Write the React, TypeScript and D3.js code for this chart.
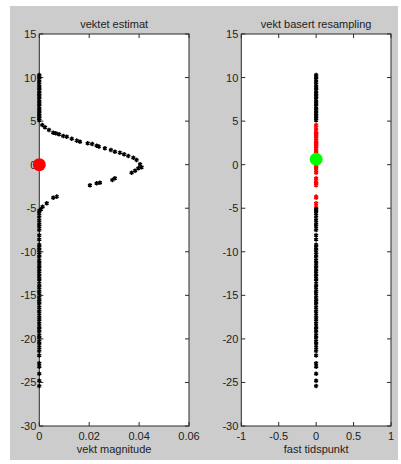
import React from "react";
import * as d3 from "d3";

const W = 401;
const H = 464;

const yTicks = [15, 10, 5, 0, -5, -10, -15, -20, -25, -30];
const leftXTicks = [0, 0.02, 0.04, 0.06];
const rightXTicks = [-1, -0.5, 0, 0.5, 1];

const titles = ["vektet estimat", "vekt basert resampling"];
const xLabels = ["vekt magnitude", "fast tidspunkt"];

// particles with (near) zero weight
const zeroPos = [
  10.3, 10.1, 9.8, 9.5, 9.2, 8.9, 8.7, 8.5, 8.2, 8.0, 7.8, 7.5, 7.2, 7.0, 6.7, 6.4, 6.2, 5.9, 5.7, 5.5, 5.3, 5.1,
  -5.3, -5.6, -6.0, -6.4, -6.8, -7.1, -7.5, -8.1, -8.6, -9.2, -9.5, -9.8, -10.1, -10.3, -10.6, -11.0, -11.3,
  -11.6, -11.9, -12.2, -12.5, -12.8, -13.1, -13.4, -13.8, -14.1, -14.5, -14.8, -15.2, -15.5, -15.7, -16.0,
  -16.4, -16.8, -17.1, -17.5, -17.8, -18.2, -18.6, -18.9, -19.2, -19.6, -19.9, -20.3, -20.6, -21.0, -21.4,
  -21.9, -22.8, -23.2, -24.0, -24.8, -25.4,
];

// particles with visible weight
const curvePos = [
  4.56, 4.29, 3.98, 3.67, 3.6, 3.49, 3.29, 3.21, 2.98, 2.76, 2.64, 2.45, 2.37, 2.18, 2.07, 1.88, 1.69, 1.49,
  1.38, 1.19, 1.0, 0.8, 0.54, 0.05, -0.3, -0.41, -0.69, -0.92, -1.56, -1.76, -2.07, -2.14, -2.37, -3.67, -3.79,
  -4.43, -4.82, -5.12,
];
const curveWeight = [
  0.0012, 0.0023, 0.0039, 0.0056, 0.0066, 0.0079, 0.0096, 0.011, 0.013, 0.015, 0.0163, 0.0194, 0.0212, 0.023,
  0.0239, 0.0263, 0.0287, 0.0303, 0.0323, 0.034, 0.0357, 0.0377, 0.039, 0.0404, 0.041, 0.0397, 0.0384, 0.037,
  0.0303, 0.0293, 0.0243, 0.023, 0.0203, 0.007, 0.0056, 0.003, 0.0013, 0.0007,
];

const estimateLeft = { x: 0, y: 0 };
const estimateRight = { x: 0, y: 0.62 };

const FONT = "'Liberation Sans', Arial, sans-serif";
const AX = "#2b2b2b";

const top = 34;
const bottom = 426;
const yScale = d3.scaleLinear().domain([-30, 15]).range([bottom, top]);
const xLeft = d3.scaleLinear().domain([0, 0.06]).range([39.3, 189]);
const xRight = d3.scaleLinear().domain([-1, 1]).range([241.3, 391]);

const star = d3.symbol().type(d3.symbolAsterisk).size(14)();

function Axes({ x, ticks, title, xlabel, fmt }: any) {
  const [x0, x1] = x.range();
  const tl = 4;
  return (
    <g>
      <rect x={x0} y={top} width={x1 - x0} height={bottom - top} fill="#fff" />
      <text x={(x0 + x1) / 2} y={28} textAnchor="middle" fontSize={11} fontFamily={FONT} fill="#222">
        {title}
      </text>
      <text x={(x0 + x1) / 2} y={453} textAnchor="middle" fontSize={11} fontFamily={FONT} fill="#222">
        {xlabel}
      </text>
      {ticks.map((t: number, i: number) => (
        <g key={"x" + i}>
          <line x1={x(t)} x2={x(t)} y1={bottom} y2={bottom - tl} stroke={AX} />
          <line x1={x(t)} x2={x(t)} y1={top} y2={top + tl} stroke={AX} />
          <text x={x(t)} y={440} textAnchor="middle" fontSize={11} fontFamily={FONT} fill="#222">
            {fmt(t)}
          </text>
        </g>
      ))}
      {yTicks.map((t, i) => (
        <g key={"y" + i}>
          <line x1={x0} x2={x0 + tl} y1={yScale(t)} y2={yScale(t)} stroke={AX} />
          <line x1={x1} x2={x1 - tl} y1={yScale(t)} y2={yScale(t)} stroke={AX} />
          <text x={x0 - 3} y={yScale(t) + 4} textAnchor="end" fontSize={11} fontFamily={FONT} fill="#222">
            {t}
          </text>
        </g>
      ))}
      <rect x={x0} y={top} width={x1 - x0} height={bottom - top} fill="none" stroke={AX} strokeWidth={1} />
    </g>
  );
}

function Marker({ x, y, color }: any) {
  return (
    <path d={star as string} transform={`translate(${x},${y})`} fill="none" stroke={color} strokeWidth={1.4} />
  );
}

export default function App() {
  const fmtLeft = (t: number) => (t === 0 ? "0" : String(t));
  const fmtRight = (t: number) => String(t);
  return (
    <svg width={W} height={H} style={{ position: "absolute", left: 0, top: 0 }}>
      <rect x={0} y={0} width={W} height={H} fill="#fff" />
      <rect x={10} y={6} width={388} height={454} fill="#cccccc" />
      <Axes x={xLeft} ticks={leftXTicks} title={titles[0]} xlabel={xLabels[0]} fmt={fmtLeft} />
      <Axes x={xRight} ticks={rightXTicks} title={titles[1]} xlabel={xLabels[1]} fmt={fmtRight} />
      {/* left panel */}
      {zeroPos.map((p, i) => (
        <Marker key={"lz" + i} x={xLeft(0)} y={yScale(p)} color="#000" />
      ))}
      {curvePos.map((p, i) => (
        <Marker key={"lc" + i} x={xLeft(curveWeight[i])} y={yScale(p)} color="#000" />
      ))}
      <circle cx={xLeft(estimateLeft.x)} cy={yScale(estimateLeft.y)} r={6.5} fill="#ff0000" />
      {/* right panel */}
      {zeroPos.map((p, i) => (
        <Marker key={"rz" + i} x={xRight(0)} y={yScale(p)} color="#000" />
      ))}
      {curvePos.map((p, i) => (
        <Marker
          key={"rc" + i}
          x={xRight(0)}
          y={yScale(p)}
          color={curveWeight[i] > 0.001 ? "#ff0000" : "#000"}
        />
      ))}
      <circle cx={xRight(estimateRight.x)} cy={yScale(estimateRight.y)} r={6.5} fill="#00ff00" />
    </svg>
  );
}
